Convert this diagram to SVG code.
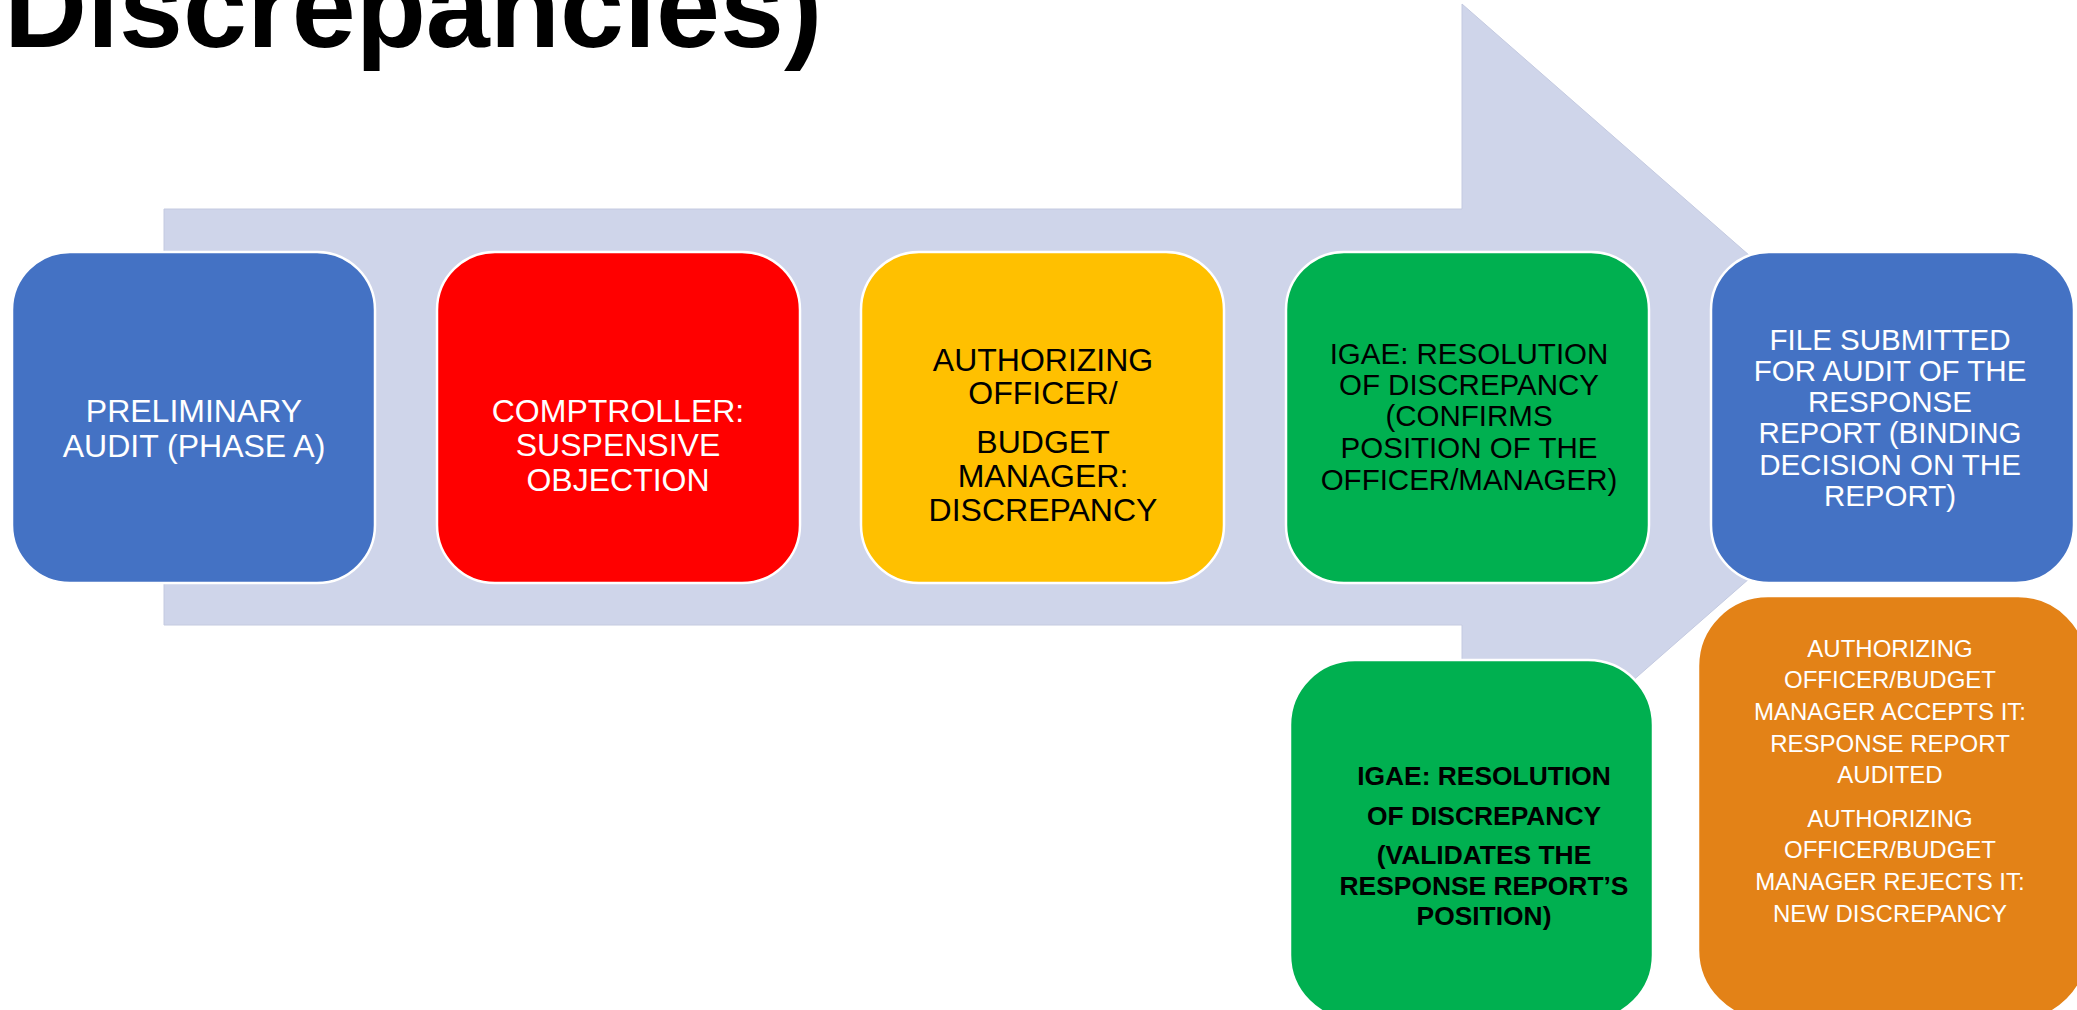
<svg xmlns="http://www.w3.org/2000/svg" width="2077" height="1010" viewBox="0 0 2077 1010">
<style>
.box{stroke:#FFFFFF;stroke-width:2.5}
.t{font-family:"Liberation Sans",Arial,sans-serif;text-anchor:middle}
.w{fill:#FFFFFF}
.k{fill:#000000}
.f32{font-size:32px}
.f29{font-size:29.5px}
.b{font-weight:bold;font-size:26.4px}
.o{font-size:24px}
</style>
<rect width="2077" height="1010" fill="#FFFFFF"/>
<text x="4" y="47" font-family="Liberation Sans, Arial, sans-serif" font-weight="bold" font-size="115" fill="#000000">Discrepancies)</text>
<g id="connectors">
<path d="M164,209 H1462 V4 L1934,417 L1462,830 V625 H164 Z" fill="#CFD5EA" stroke="#C4CAE0" stroke-width="1"/>
</g>
<g id="n1">
<rect class="box" x="12" y="252" width="363" height="331" rx="58" fill="#4472C4"/>
<text class="t w f32" x="194" y="422">PRELIMINARY</text>
<text class="t w f32" x="194" y="457">AUDIT (PHASE A)</text>
</g>
<g id="n2">
<rect class="box" x="437" y="252" width="363" height="331" rx="58" fill="#FF0000"/>
<text class="t w f32" x="618" y="422">COMPTROLLER:</text>
<text class="t w f32" x="618" y="456">SUSPENSIVE</text>
<text class="t w f32" x="618" y="491">OBJECTION</text>
</g>
<g id="n3">
<rect class="box" x="861" y="252" width="363" height="331" rx="58" fill="#FFC000"/>
<text class="t k f32" x="1043" y="371">AUTHORIZING</text>
<text class="t k f32" x="1043" y="404">OFFICER/</text>
<text class="t k f32" x="1043" y="453">BUDGET</text>
<text class="t k f32" x="1043" y="487">MANAGER:</text>
<text class="t k f32" x="1043" y="521">DISCREPANCY</text>
</g>
<g id="n4">
<rect class="box" x="1286" y="252" width="363" height="331" rx="58" fill="#00B050"/>
<text class="t k f29" x="1469" y="364">IGAE: RESOLUTION</text>
<text class="t k f29" x="1469" y="395">OF DISCREPANCY</text>
<text class="t k f29" x="1469" y="426">(CONFIRMS</text>
<text class="t k f29" x="1469" y="458">POSITION OF THE</text>
<text class="t k f29" x="1469" y="490">OFFICER/MANAGER)</text>
</g>
<g id="n5">
<rect class="box" x="1711" y="252" width="363" height="331" rx="58" fill="#4472C4"/>
<text class="t w f29" x="1890" y="350">FILE SUBMITTED</text>
<text class="t w f29" x="1890" y="381">FOR AUDIT OF THE</text>
<text class="t w f29" x="1890" y="412">RESPONSE</text>
<text class="t w f29" x="1890" y="443">REPORT (BINDING</text>
<text class="t w f29" x="1890" y="475">DECISION ON THE</text>
<text class="t w f29" x="1890" y="506">REPORT)</text>
</g>
<g id="n6">
<rect class="box" x="1290" y="660" width="363" height="360" rx="65" fill="#00B050"/>
<text class="t k b" x="1484" y="785">IGAE: RESOLUTION</text>
<text class="t k b" x="1484" y="825">OF DISCREPANCY</text>
<text class="t k b" x="1484" y="864">(VALIDATES THE</text>
<text class="t k b" x="1484" y="895">RESPONSE REPORT’S</text>
<text class="t k b" x="1484" y="925">POSITION)</text>
</g>
<g id="n7">
<rect class="box" x="1698" y="596" width="390" height="424" rx="70" fill="#E38217"/>
<text class="t w o" x="1890" y="657">AUTHORIZING</text>
<text class="t w o" x="1890" y="688">OFFICER/BUDGET</text>
<text class="t w o" x="1890" y="720">MANAGER ACCEPTS IT:</text>
<text class="t w o" x="1890" y="752">RESPONSE REPORT</text>
<text class="t w o" x="1890" y="783">AUDITED</text>
<text class="t w o" x="1890" y="827">AUTHORIZING</text>
<text class="t w o" x="1890" y="858">OFFICER/BUDGET</text>
<text class="t w o" x="1890" y="890">MANAGER REJECTS IT:</text>
<text class="t w o" x="1890" y="922">NEW DISCREPANCY</text>
</g>
</svg>
